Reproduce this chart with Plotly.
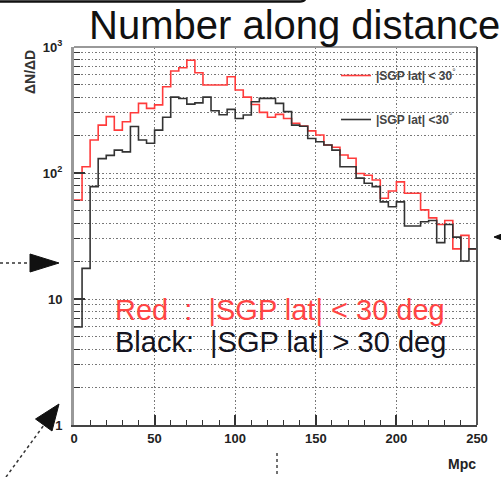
import plotly.graph_objects as go

# Histogram of counts per 5 Mpc distance bin, 0-250 Mpc
bin_width = 5
n_bins = 50
bin_edges = [i * bin_width for i in range(n_bins + 1)]

# |SGP lat| < 30 deg (red)
counts_low_lat = [
    61, 112, 183, 240, 280, 219, 255, 301, 357, 326,
    347, 484, 645, 685, 785, 625, 499, 499, 499, 581,
    456, 400, 350, 303, 277, 292, 271, 248, 236, 216,
    200, 167, 160, 139, 131, 99, 96, 88, 63, 72,
    85, 69, 69, 51, 44, 39, 42, 25, 32, 25,
]

# |SGP lat| > 30 deg (black)
counts_high_lat = [
    6, 17.5, 78, 130, 138, 152, 147, 234, 183, 172,
    219, 277, 400, 390, 352, 360, 400, 312, 290, 320,
    271, 289, 368, 391, 391, 357, 307, 240, 235, 188,
    177, 167, 152, 112, 112, 91, 83, 78, 59, 54,
    59, 38, 38, 41, 42, 28, 39, 31, 20, 25,
]

x_ticks = [0, 50, 100, 150, 200, 250]
y_ticks = [1, 10, 100, 1000]
y_tick_text = ["1", "10", "10<sup>2</sup>", "10<sup>3</sup>"]
y_minor = [m * 10 ** d for d in range(3) for m in range(2, 10)]

legend_low = "<b>|SGP lat| < 30</b><sup>°</sup>"
legend_high = "<b>|SGP lat| <30</b><sup>°</sup>"

# page geometry (pixels) used to place decorations around the frame
W_PAGE, H_PAGE = 501, 477
L, R, T, B = 74, 477, 47, 425


def px(x):
    return (x - L) / (R - L)


def py(y):
    return (B - y) / (B - T)


FONT = "Liberation Sans, Arial, sans-serif"
GRID_DASH = "1.5px,2px"

fig = go.Figure()
fig.add_trace(go.Scatter(
    x=bin_edges, y=counts_low_lat + [counts_low_lat[-1]],
    mode="lines", line=dict(shape="hv", color="#ff3b3b", width=1.6),
    name=legend_low, legendgroup="low",
))
fig.add_trace(go.Scatter(
    x=bin_edges, y=counts_high_lat + [counts_high_lat[-1]],
    mode="lines", line=dict(shape="hv", color="#333333", width=1.6),
    name=legend_high, legendgroup="high",
))

fig.update_xaxes(
    range=[0, 250], tickvals=x_ticks, ticks="inside", ticklen=10, tickwidth=1.5,
    tickcolor="#333", showline=True, linecolor="#444", linewidth=2,
    showgrid=True, gridcolor="#777", griddash=GRID_DASH, gridwidth=1,
    zeroline=False,
    tickfont=dict(family=FONT, size=13, color="#222", weight="bold"),
    minor=dict(dtick=10, ticks="inside", ticklen=5, tickcolor="#333", tickwidth=1.2,
               showgrid=False),
)
fig.update_yaxes(
    type="log", range=[0, 3], tickvals=y_ticks, ticktext=y_tick_text,
    ticks="inside", ticklen=11, tickwidth=1.5, tickcolor="#333",
    showline=True, linecolor="#999", linewidth=3,
    showgrid=True, gridcolor="#777", griddash=GRID_DASH, gridwidth=1,
    zeroline=False, ticklabelstandoff=6,
    tickfont=dict(family=FONT, size=13, color="#222", weight="bold"),
    minor=dict(tickvals=y_minor, ticks="inside", ticklen=6, tickcolor="#333",
               tickwidth=1.2, showgrid=True, gridcolor="#777", griddash=GRID_DASH,
               gridwidth=1),
)

shapes = [
    # frame: top and right edges
    dict(type="line", xref="paper", yref="paper", x0=0, x1=1, y0=1, y1=1,
         line=dict(color="#999", width=2)),
    dict(type="line", xref="paper", yref="paper", x0=1, x1=1, y0=0, y1=1,
         line=dict(color="#555", width=2)),
    # box edge across the top of the page
    dict(type="path", xref="paper", yref="paper",
         path=f"M {px(-2)},{py(1.5)} L {px(300)},{py(1.5)} Q {px(305)},{py(1.5)} {px(306)},{py(-3)}",
         line=dict(color="#111", width=2.5)),
    # arrow pointing at the frame from the left
    dict(type="line", xref="paper", yref="paper", x0=px(0), x1=px(31), y0=py(263), y1=py(263),
         line=dict(color="#333", width=1.5, dash="dot")),
    dict(type="path", xref="paper", yref="paper",
         path=f"M {px(30)},{py(254)} L {px(59)},{py(263)} L {px(30)},{py(272)} Z",
         fillcolor="#111", line=dict(color="#111", width=1)),
    # arrow tip at the right edge
    dict(type="path", xref="paper", yref="paper",
         path=f"M {px(494)},{py(237)} L {px(507)},{py(232)} L {px(507)},{py(242)} Z",
         fillcolor="#111", line=dict(color="#111", width=1)),
    # diagonal arrow towards the origin
    dict(type="line", xref="paper", yref="paper", x0=px(6), x1=px(44), y0=py(477), y1=py(425),
         line=dict(color="#333", width=1.5, dash="dot")),
    dict(type="path", xref="paper", yref="paper",
         path=f"M {px(59)},{py(404)} L {px(35.5)},{py(419)} L {px(52)},{py(431)} Z",
         fillcolor="#111", line=dict(color="#111", width=1)),
    # short dotted marker below the axis
    dict(type="line", xref="paper", yref="paper", x0=px(277), x1=px(277), y0=py(453), y1=py(478),
         line=dict(color="#444", width=1.5, dash="dot")),
]

annotations = [
    dict(text="Number along distance", xref="paper", yref="paper",
         x=px(87), y=py(25), xanchor="left", yanchor="middle", showarrow=False,
         font=dict(family=FONT, size=40, color="#111")),
    dict(text="<b>ΔN/ΔD</b>", xref="paper", yref="paper", textangle=-90,
         x=px(30), y=py(72), xanchor="center", yanchor="middle", showarrow=False,
         font=dict(family=FONT, size=14, color="#333")),
    dict(text="<b>Mpc</b>", xref="paper", yref="paper",
         x=px(462), y=py(464), xanchor="center", yanchor="middle", showarrow=False,
         font=dict(family=FONT, size=14, color="#222")),
    dict(text="Red\u00a0\u00a0:\u00a0\u00a0|SGP lat| < 30 deg", xref="paper", yref="paper",
         x=px(113), y=py(310), xanchor="left", yanchor="middle", showarrow=False,
         font=dict(family=FONT, size=29, color="#ff4444")),
    dict(text="Black:\u00a0\u00a0|SGP lat| > 30 deg", xref="paper", yref="paper",
         x=px(113), y=py(342), xanchor="left", yanchor="middle", showarrow=False,
         font=dict(family=FONT, size=29, color="#141420")),
]

fig.update_layout(
    width=W_PAGE, height=H_PAGE,
    margin=dict(l=L, r=W_PAGE - R, t=T, b=H_PAGE - B, pad=0),
    paper_bgcolor="white", plot_bgcolor="white",
    showlegend=True,
    legend=dict(x=px(336), y=py(61), xanchor="left", yanchor="top",
                bgcolor="rgba(0,0,0,0)", tracegroupgap=25,
                font=dict(family=FONT, size=12, color="#444")),
    shapes=shapes, annotations=annotations,
)

fig.write_html("out.html")
